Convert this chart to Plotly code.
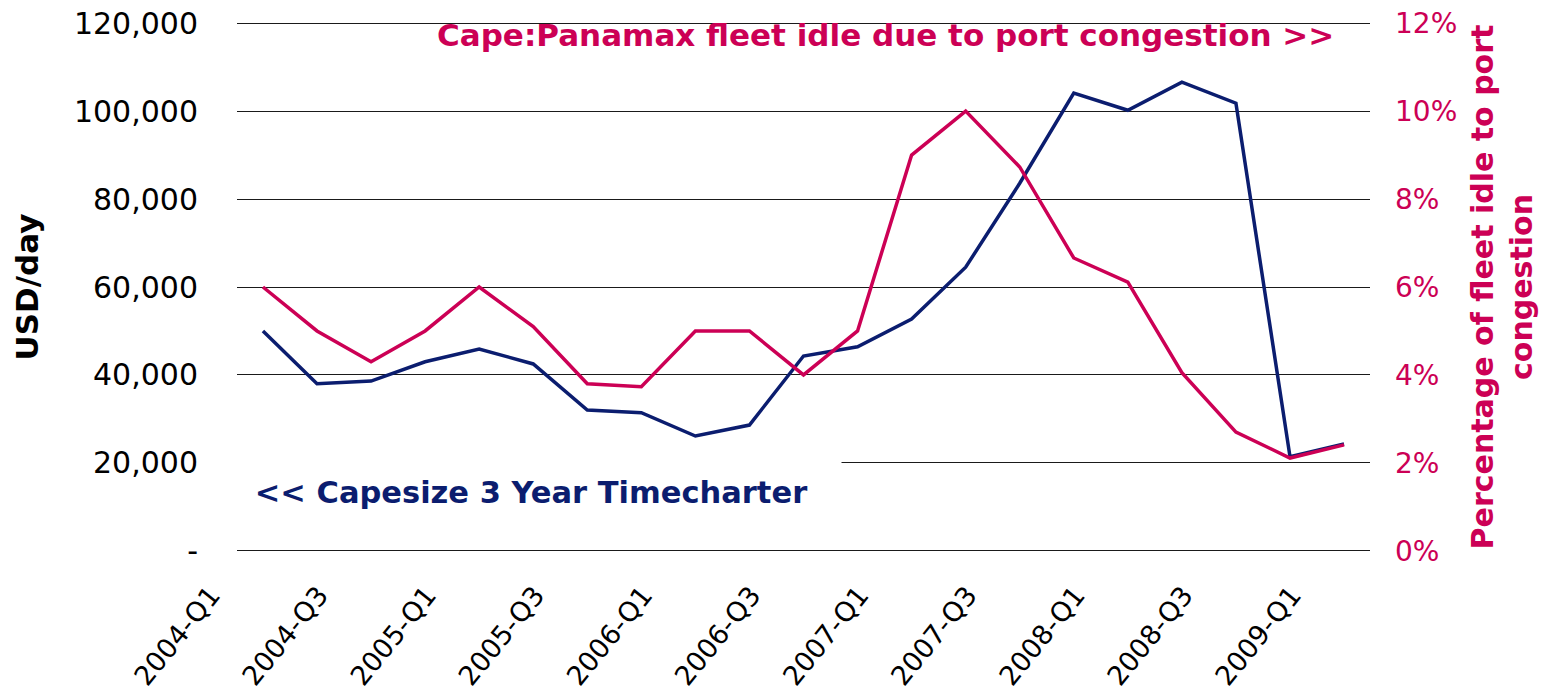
import plotly.graph_objects as go

quarters = [
    "2004-Q1", "2004-Q2", "2004-Q3", "2004-Q4",
    "2005-Q1", "2005-Q2", "2005-Q3", "2005-Q4",
    "2006-Q1", "2006-Q2", "2006-Q3", "2006-Q4",
    "2007-Q1", "2007-Q2", "2007-Q3", "2007-Q4",
    "2008-Q1", "2008-Q2", "2008-Q3", "2008-Q4",
    "2009-Q1",
]
capesize_tc = [
    50000, 38000, 38600, 43000, 45900, 42500, 32000, 31400, 26100, 28600,
    44300, 46400, 52700, 64500, 83600, 104100, 100200, 106600, 101800, 21400,
    24300,
]
idle_pct = [
    0.060, 0.050, 0.043, 0.050, 0.060, 0.051, 0.038, 0.0373, 0.050, 0.050,
    0.040, 0.050, 0.090, 0.100, 0.0873, 0.0666, 0.0611, 0.0405, 0.027, 0.0211,
    0.0241,
]
x_tick_labels = quarters[::2]
left_ticks = [0, 20000, 40000, 60000, 80000, 100000, 120000]
left_tick_text = ["-", "20,000", "40,000", "60,000", "80,000", "100,000", "120,000"]
right_ticks = [0, 0.02, 0.04, 0.06, 0.08, 0.10, 0.12]
right_tick_text = ["0%", "2%", "4%", "6%", "8%", "10%", "12%"]

NAVY = "#0B1D6F"
PINK = "#CC0055"
FONT = "DejaVu Sans, Verdana, sans-serif"

fig = go.Figure()
fig.add_trace(go.Scatter(
    x=quarters, y=capesize_tc, mode="lines", name="Capesize 3 Year Timecharter",
    line=dict(color=NAVY, width=3.5), yaxis="y",
))
fig.add_trace(go.Scatter(
    x=quarters, y=idle_pct, mode="lines", name="Cape:Panamax fleet idle",
    line=dict(color=PINK, width=3.5), yaxis="y2",
))

fig.update_layout(
    width=1541, height=694,
    margin=dict(l=237, r=171, t=21, b=141, autoexpand=False),
    paper_bgcolor="white", plot_bgcolor="white",
    showlegend=False,
    font=dict(family=FONT, color="black"),
    xaxis=dict(
        type="category", range=[-0.48, 20.48],
        tickmode="array", tickvals=x_tick_labels, ticktext=x_tick_labels,
        tickangle=-51, tickfont=dict(size=27, color="black"),
        ticklabelstandoff=20, ticklabelshift=-52,
        showgrid=False, showline=False, zeroline=False, ticks="",
        automargin=False,
    ),
    yaxis=dict(
        range=[-500, 120500], tickmode="array", tickvals=left_ticks, ticktext=left_tick_text,
        tickfont=dict(size=30, color="black"), ticklabelstandoff=38,
        showgrid=True, gridcolor="#1a1a1a", gridwidth=1.3,
        zeroline=False, showline=False, ticks="",
        title=dict(text="<b>USD/day</b>", font=dict(size=31, color="black"), standoff=26),
        automargin=False,
    ),
    yaxis2=dict(
        range=[-0.0005, 0.1205], overlaying="y", side="right",
        tickmode="array", tickvals=right_ticks, ticktext=right_tick_text,
        tickfont=dict(size=28, color=PINK), ticklabelstandoff=24,
        showgrid=False, zeroline=False, showline=False, ticks="",
        title=dict(text="<b>Percentage of fleet idle to port<br>congestion</b>",
                   font=dict(size=30, color=PINK), standoff=15),
        automargin=False,
    ),
    annotations=[
        dict(
            text="<b>Cape:Panamax fleet idle due to port congestion &gt;&gt;</b>",
            xref="paper", yref="paper", x=0.572, y=0.974,
            xanchor="center", yanchor="middle", showarrow=False,
            font=dict(family=FONT, size=31, color=PINK),
        ),
        dict(
            text="<b>&lt;&lt; Capesize 3 Year Timecharter</b>",
            xref="paper", yref="paper", x=0.2595, y=0.115,
            xanchor="center", yanchor="middle", showarrow=False,
            width=618, height=66, bgcolor="white", align="center", valign="middle",
            font=dict(family=FONT, size=30.5, color=NAVY),
        ),
    ],
)

fig.write_html("out.html")
